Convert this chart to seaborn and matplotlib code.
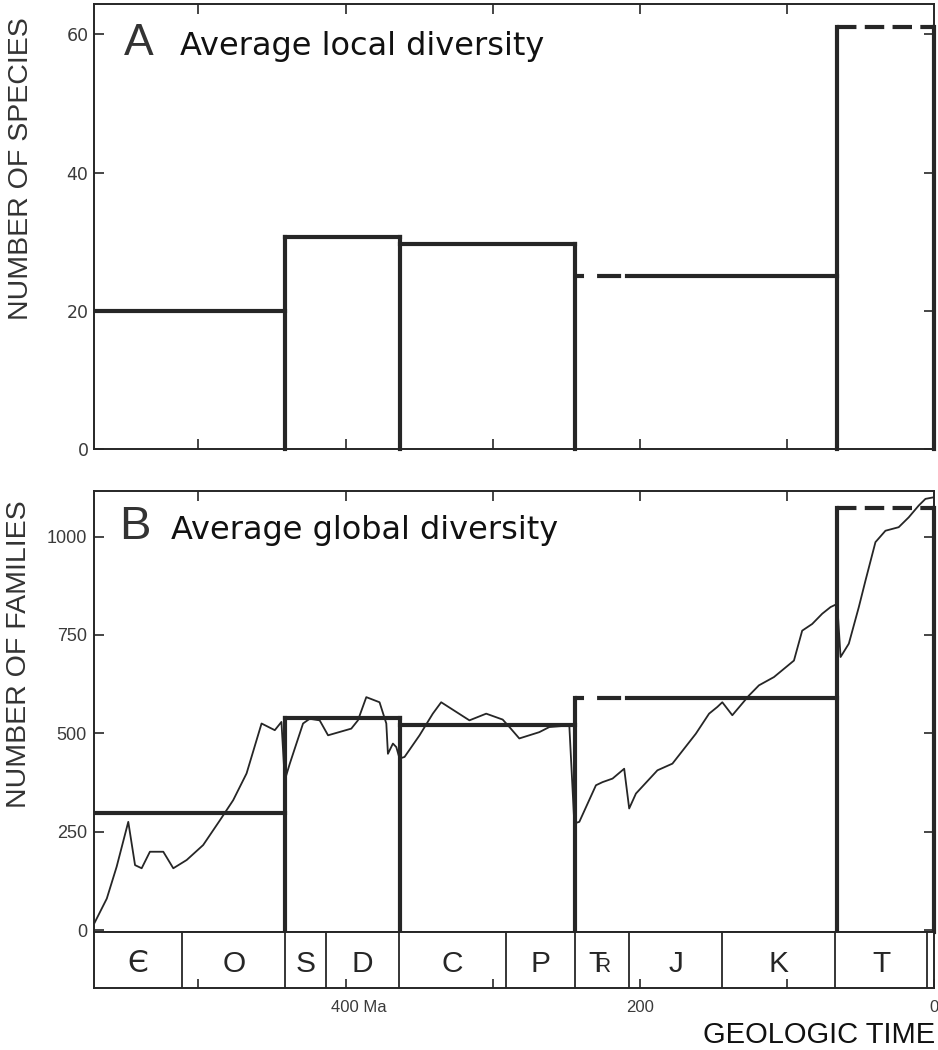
import numpy as np
import pandas as pd
import matplotlib
matplotlib.use("Agg")
import matplotlib.pyplot as plt
import matplotlib.transforms as mtransforms
from matplotlib import font_manager
import seaborn as sns

# ---------------- data ----------------
interval_edges_ma = [571, 441, 363, 244, 66, 0]
local_species = [20.0, 30.7, 29.6, 25.1, 61.0]
global_families = [298, 540, 520, 589, 1073]
top_styles = ["solid", "solid", "solid", "partial", "dashed"]
partial_dash_until_ma = 209

curve_age_ma = [570.8, 562.3, 555.6, 547.7, 543.1, 538.6, 533.0, 523.9, 517.1, 508.0,
                496.8, 485.4, 476.4, 467.3, 457.1, 448.1, 443.6, 441.3, 437.9, 428.9,
                424.4, 417.6, 411.9, 396.1, 391.6, 385.9, 376.9, 372.3, 371.2, 367.8,
                365.5, 363.3, 359.9, 349.7, 340.7, 335.0, 315.8, 304.4, 293.2, 288.6,
                281.9, 268.3, 261.5, 247.9, 244.5, 241.1, 229.8, 225.3, 218.5, 210.6,
                207.2, 202.6, 188.0, 177.8, 161.9, 152.9, 147.3, 143.9, 137.1, 125.8,
                119.0, 108.8, 95.2, 89.6, 82.8, 76.0, 70.3, 65.8, 63.5, 57.9,
                51.1, 46.6, 39.8, 33.0, 24.0, 17.2, 10.4, 5.8, 0.2]
curve_families = [17, 80, 161, 275, 165, 157, 199, 199, 157, 178,
                  216, 279, 330, 398, 525, 508, 529, 381, 423, 525,
                  537, 533, 495, 512, 533, 592, 579, 525, 448, 474,
                  465, 436, 440, 495, 550, 579, 533, 550, 535, 516,
                  487, 503, 516, 520, 271, 275, 368, 376, 385, 410,
                  309, 347, 406, 423, 499, 550, 567, 579, 546, 596,
                  622, 643, 685, 761, 778, 804, 821, 829, 694, 728,
                  821, 888, 986, 1015, 1024, 1049, 1079, 1096, 1100]

period_edges_ma = [571, 511, 441, 413, 364, 291, 244, 207, 144, 67, 5, 0]
period_labels = ["Є", "O", "S", "D", "C", "P", "TR", "J", "K", "T", ""]

time_ticks = [500, 400, 300, 200, 100, 0]
time_tick_labels = ["", "400 Ma", "", "200", "", "0"]
species_ticks = [0, 20, 40, 60]
family_ticks = [0, 250, 500, 750, 1000]

# ---------------- style ----------------
sns.set_theme(style="white")
plt.rcParams["font.family"] = ["Liberation Sans", "DejaVu Sans"]
plt.rcParams["lines.scale_dashes"] = False

avail = {f.name for f in font_manager.fontManager.ttflist}
NARROW = "Liberation Sans Narrow" if "Liberation Sans Narrow" in avail else None

INK = "#262626"
GRAY = "#3a3a3a"

fig = plt.figure(figsize=(9.38, 10.5), dpi=100)
fig.patch.set_facecolor("white")
L, W = 94 / 938, 840 / 938
axA = fig.add_axes([L, 1 - 449 / 1050, W, 445 / 1050])
axB = fig.add_axes([L, 1 - 932 / 1050, W, 441 / 1050])
axT = fig.add_axes([L, 1 - 988 / 1050, W, 56 / 1050])

XLIM = (571, 0)


def style_axes(ax):
    for s in ax.spines.values():
        s.set_color(INK)
        s.set_linewidth(1.4)
        s.set_visible(True)
    ax.set_facecolor("white")


def draw_steps(ax, levels, ybottom):
    lw = 3.0
    kw = dict(color=INK, lw=lw, solid_capstyle="projecting", dash_capstyle="butt")
    for i, lvl in enumerate(levels):
        x0, x1 = interval_edges_ma[i], interval_edges_ma[i + 1]
        st = top_styles[i]
        if st == "solid":
            ax.plot([x0, x1], [lvl, lvl], **kw)
        elif st == "dashed":
            ax.plot([x0, x1], [lvl, lvl], linestyle=(0, (14, 6)), clip_on=False, **kw)
        else:
            ax.plot([x0, partial_dash_until_ma], [lvl, lvl],
                    linestyle=(0, (6.5, 9.4, 17.3, 4.3)), **kw)
            ax.plot([partial_dash_until_ma, x1], [lvl, lvl], **kw)
    for i in range(1, len(interval_edges_ma)):
        if i < len(levels):
            h = max(levels[i - 1], levels[i])
        else:
            h = levels[-1]
        ax.plot([interval_edges_ma[i]] * 2, [ybottom, h], clip_on=False, **kw)


# ---------------- Panel A ----------------
style_axes(axA)
draw_steps(axA, local_species, 0)
axA.set_xlim(*XLIM)
axA.set_ylim(0, 64.4)
axA.set_xticks(time_ticks[:-1])
axA.set_yticks(species_ticks)
axA.set_yticklabels([str(v) for v in species_ticks], family="DejaVu Sans",
                    fontsize=12.5, color=GRAY)
axA.tick_params(axis="both", direction="in", length=7, width=1.2, color=INK,
                top=True, bottom=True, left=True, right=True,
                labelbottom=False, pad=4)
axA.set_ylabel("NUMBER OF SPECIES", fontsize=20.5, color="#333333")
axA.yaxis.set_label_coords(-0.0714, 0.629)
axA.text(0.036, 0.885, "A", transform=axA.transAxes, fontsize=32, color="#333333",
         va="baseline", ha="left")
axA.text(0.1025, 0.885, "Average local diversity", transform=axA.transAxes,
         family="DejaVu Sans", fontsize=23, color="#111111", va="baseline", ha="left")

# ---------------- Panel B ----------------
style_axes(axB)
df = pd.DataFrame({"age": curve_age_ma, "families": curve_families})
sns.lineplot(data=df, x="age", y="families", sort=False, estimator=None,
             color=INK, lw=1.3, ax=axB)
draw_steps(axB, global_families, -5)
axB.set_xlim(*XLIM)
axB.set_ylim(-5, 1116)
axB.set_xticks(time_ticks[:-1])
axB.set_yticks(family_ticks)
axB.set_yticklabels([str(v) for v in family_ticks], fontsize=13, color=GRAY,
                    family=[NARROW] if NARROW else ["Liberation Sans"])
axB.tick_params(axis="both", direction="in", length=7, width=1.2, color=INK,
                top=True, bottom=False, left=True, right=True,
                labelbottom=False, pad=5)
axB.set_xlabel("")
axB.set_ylabel("NUMBER OF FAMILIES", fontsize=20.5, color="#333333")
axB.yaxis.set_label_coords(-0.0738, 0.63)
axB.text(0.030, 0.891, "B", transform=axB.transAxes, fontsize=34, color="#333333",
         va="baseline", ha="left")
axB.text(0.0918, 0.891, "Average global diversity", transform=axB.transAxes,
         family="DejaVu Sans", fontsize=23, color="#111111", va="baseline", ha="left")

# ---------------- Time scale ----------------
style_axes(axT)
axT.set_xlim(*XLIM)
axT.set_ylim(0, 1)
axT.set_yticks([])
for e in period_edges_ma[1:-1]:
    axT.axvline(e, color=INK, lw=1.3)
lab_family = [NARROW] if NARROW else ["Liberation Sans"]
lab_size = 23 if NARROW else 21.5
BASE = 0.29
for i, lab in enumerate(period_labels):
    if not lab:
        continue
    mid = 0.5 * (period_edges_ma[i] + period_edges_ma[i + 1])
    if lab == "TR":
        # Triassic symbol: a T whose stem is shared with a smaller R
        axT.text(mid + 3, BASE, "T", ha="center", va="baseline", fontsize=lab_size,
                 family=lab_family, color=INK)
        axT.text(mid + 4.8, BASE, "R", ha="left", va="baseline", fontsize=lab_size * 0.7,
                 family=lab_family, color=INK)
    else:
        axT.text(mid, BASE, lab, ha="center", va="baseline", fontsize=lab_size,
                 family=lab_family if lab != "Є" else ["DejaVu Sans"], color=INK)
axT.set_xticks(time_ticks)
axT.set_xticklabels(time_tick_labels, fontsize=12, color=GRAY,
                    family=lab_family)
axT.tick_params(axis="x", direction="in", length=6.5, width=1.2, color=INK,
                top=False, bottom=True, pad=9)
for t, lbl in zip(axT.get_xticklabels(), time_tick_labels):
    if lbl == "400 Ma":
        t.set_transform(t.get_transform() + mtransforms.ScaledTranslation(0.13, 0, fig.dpi_scale_trans))

fig.text(935 / 938, 1 - 1043 / 1050, "GEOLOGIC TIME", ha="right", va="baseline",
         fontsize=24 if NARROW else 21, family=lab_family, color="#111111")

fig.savefig("out.png", dpi=100, facecolor="white")
